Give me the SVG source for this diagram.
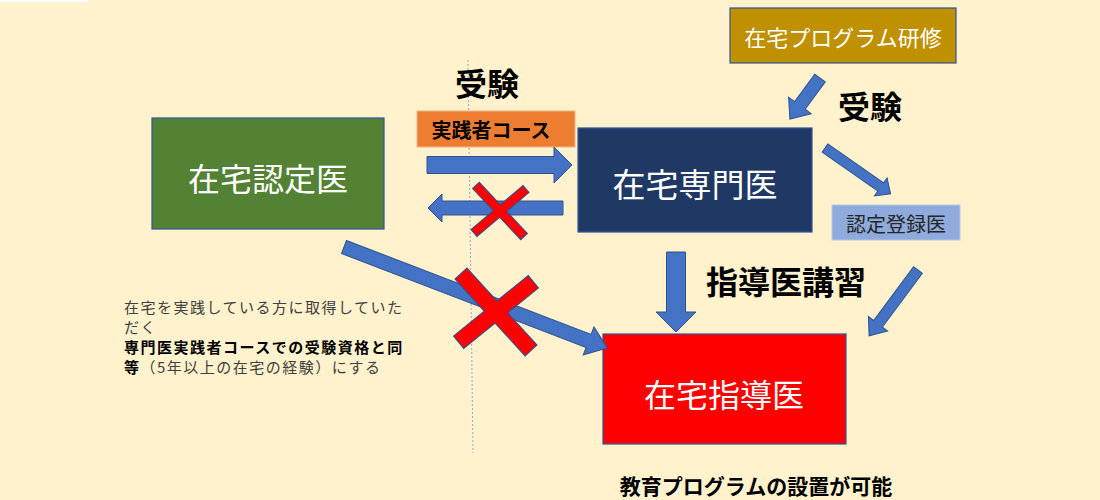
<svg xmlns="http://www.w3.org/2000/svg" width="1100" height="500" viewBox="0 0 1100 500">
<style>
.jp{font-family:"Noto Sans CJK JP","Noto Sans CJK SC",sans-serif}
.node{font-family:"Noto Sans CJK JP",sans-serif;fill:#fff;text-anchor:middle;dominant-baseline:central}
.lbl{font-family:"Noto Sans CJK JP",sans-serif;font-weight:bold;fill:#000;text-anchor:middle;dominant-baseline:central}
.arr{fill:#4472C4;stroke:#2F528F;stroke-width:1}
.xs{fill:#FF0000;stroke:#2F528F;stroke-width:1.2}
.xf{fill:#FF0000}
</style>
<rect width="1100" height="500" fill="#FFF2CC"/>
<rect x="0" y="0" width="88" height="2" fill="#FFFFFF"/>
<line x1="468" y1="60" x2="473" y2="453" stroke="#8FAADC" stroke-width="1" stroke-dasharray="2 2"/>

<g id="node-zaitaku-nintei">
<rect x="152" y="118" width="232" height="111" fill="#548235" stroke="#2F5597" stroke-width="1.2"/>
<text class="node" x="268" y="177" font-size="32">在宅認定医</text>
</g>
<g id="node-zaitaku-senmon">
<rect x="578" y="128" width="234" height="104" fill="#203864" stroke="#2F5597" stroke-width="1.2"/>
<text class="node" x="695" y="183" font-size="33">在宅専門医</text>
</g>
<g id="node-program">
<rect x="730" y="8" width="226" height="55" fill="#BF9000" stroke="#2F5597" stroke-width="1.2"/>
<text class="node" x="843" y="36" font-size="22">在宅プログラム研修</text>
</g>
<g id="node-nintei-touroku">
<rect x="832" y="205" width="128" height="35" fill="#8FAADC" stroke="#B4C7E7" stroke-width="1"/>
<text class="node" x="896" y="223" font-size="20" style="fill:#262626">認定登録医</text>
</g>
<g id="node-zaitaku-shidou">
<rect x="603" y="334" width="243" height="110" fill="#FF0000" stroke="#2F5597" stroke-width="1.2"/>
<text class="node" x="724" y="393" font-size="32">在宅指導医</text>
</g>
<g id="node-course">
<rect x="417" y="111" width="158" height="36" fill="#ED7D31" stroke="#F4B183" stroke-width="1"/>
<text class="lbl" x="491" y="129" font-size="20">実践者コース</text>
</g>

<g id="connectors">
<polygon class="arr" transform="translate(427,165)" points="0,-8.5 127,-8.5 127,-18 145,0 127,18 127,8.5 0,8.5"/>
<polygon class="arr" transform="translate(563,208) rotate(180)" points="0,-7 121,-7 121,-14 135,0 121,14 121,7 0,7"/>
<polygon class="arr" transform="translate(820,78) rotate(126.2)" points="0,-6.5 34,-6.5 34,-14 51,0 34,14 34,6.5 0,6.5"/>
<polygon class="arr" transform="translate(825,148) rotate(34.9)" points="0,-5 68,-5 68,-11 80,0 68,11 68,5 0,5"/>
<polygon class="arr" transform="translate(676,252) rotate(90)" points="0,-9.5 60,-9.5 60,-20 80,0 60,20 60,9.5 0,9.5"/>
<polygon class="arr" transform="translate(918,270) rotate(126.6)" points="0,-5.5 67,-5.5 67,-12 82,0 67,12 67,5.5 0,5.5"/>
<polygon class="arr" transform="translate(344,247) rotate(21)" points="0,-7 262,-7 262,-15 282,0 262,15 262,7 0,7"/>
</g>

<g id="cross-small" transform="translate(500,211)">
<rect class="xs" x="-35" y="-4.5" width="70" height="9" transform="rotate(46.7)"/>
<rect class="xs" x="-34" y="-4.5" width="68" height="9" transform="rotate(139.8)"/>
<rect class="xf" x="-34.4" y="-3.9" width="68.8" height="7.8" transform="rotate(46.7)"/>
<rect class="xf" x="-33.4" y="-3.9" width="66.8" height="7.8" transform="rotate(139.8)"/>
</g>
<g id="cross-large" transform="translate(496,312)">
<rect class="xs" x="-52" y="-8" width="104" height="16" transform="rotate(47.7)"/>
<rect class="xs" x="-48" y="-8" width="96" height="16" transform="rotate(141)"/>
<rect class="xf" x="-51.4" y="-7.4" width="102.8" height="14.8" transform="rotate(47.7)"/>
<rect class="xf" x="-47.4" y="-7.4" width="94.8" height="14.8" transform="rotate(141)"/>
</g>

<g id="labels">
<text class="lbl" x="487" y="82" font-size="32">受験</text>
<text class="lbl" x="870" y="105" font-size="32">受験</text>
<text class="lbl" x="786" y="280" font-size="32">指導医講習</text>
<text class="lbl" x="756" y="485" font-size="21">教育プログラムの設置が可能</text>
</g>

<g id="note" class="jp" font-size="15" letter-spacing="1.5" fill="#404040">
<text x="124" y="306" dominant-baseline="central">在宅を実践している方に取得していた</text>
<text x="124" y="326" dominant-baseline="central">だく</text>
<text x="124" y="346" dominant-baseline="central" font-weight="bold" fill="#000">専門医実践者コースでの受験資格と同</text>
<text x="124" y="366" dominant-baseline="central"><tspan font-weight="bold" fill="#000">等</tspan>（5年以上の在宅の経験）にする</text>
</g>
</svg>
